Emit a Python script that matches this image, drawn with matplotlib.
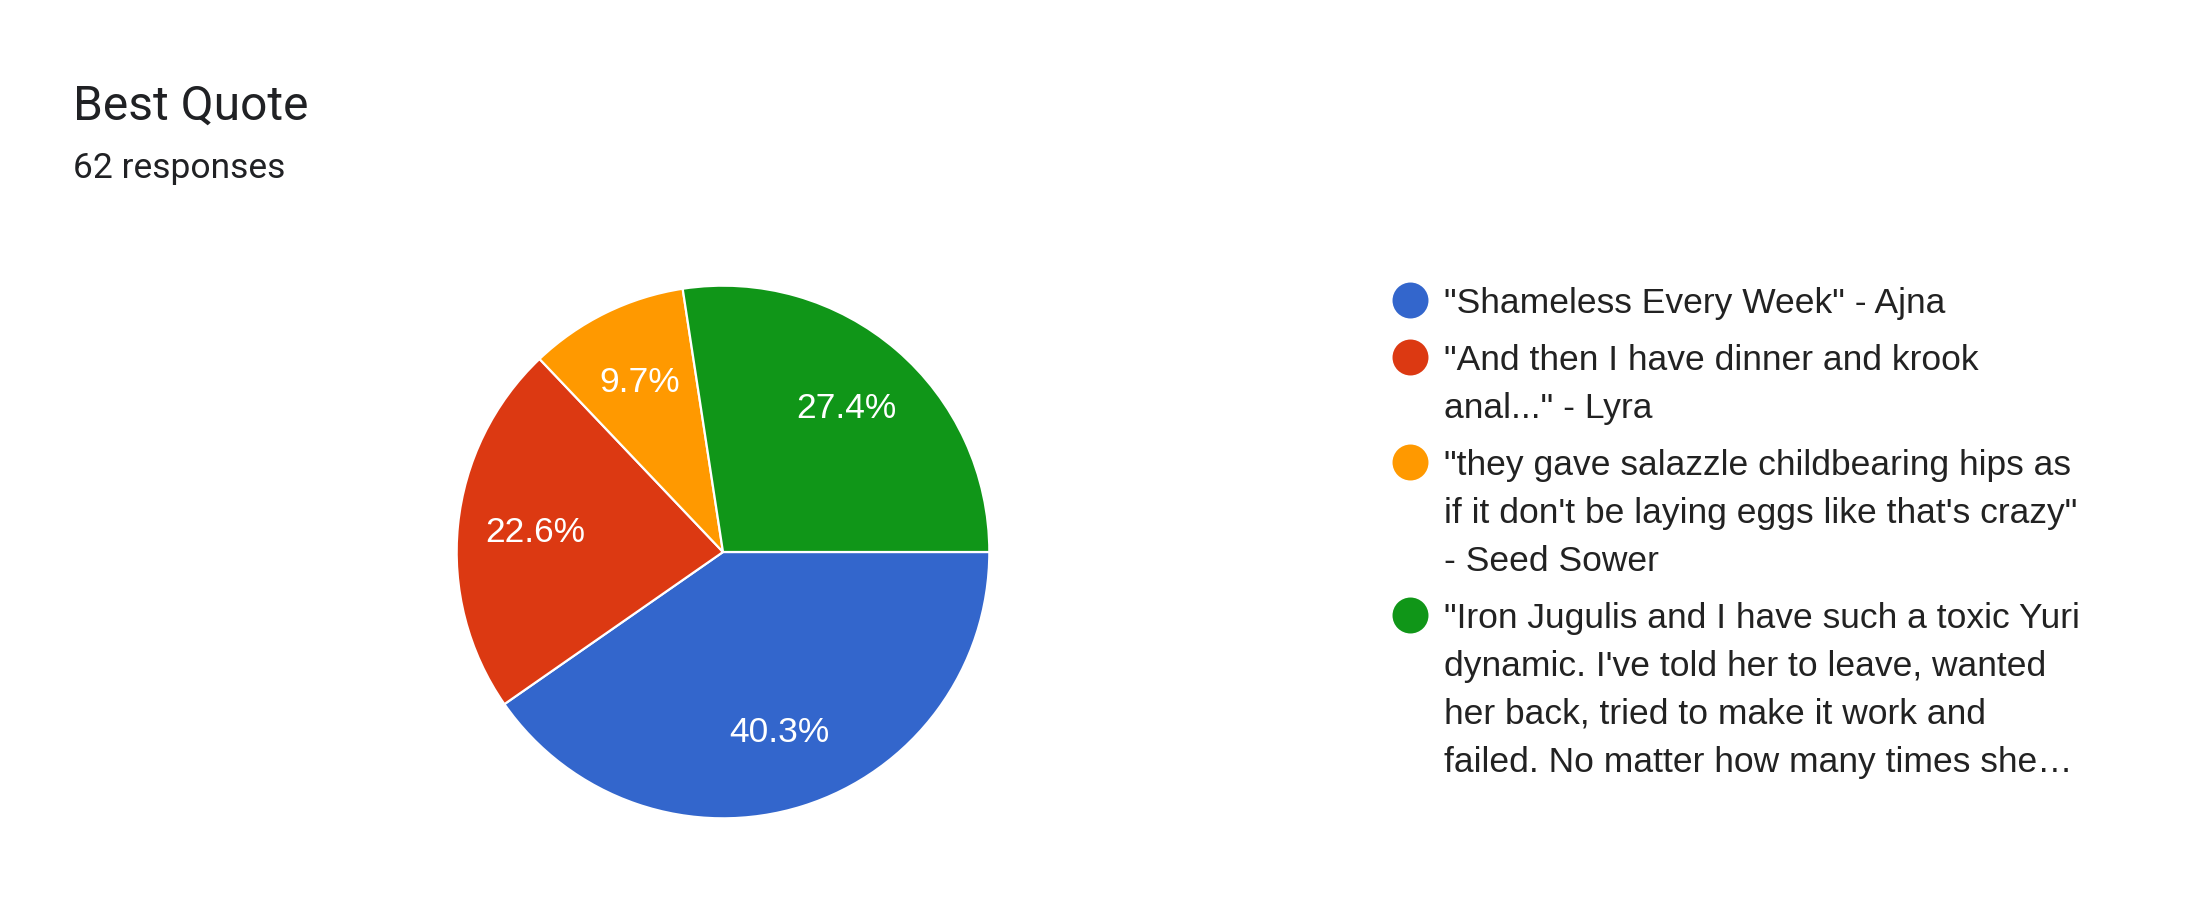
import matplotlib.pyplot as plt

plt.rcParams['font.family'] = ['Roboto', 'DejaVu Sans']
body_font = ['Liberation Sans', 'DejaVu Sans']

# data
title = 'Best Quote'
subtitle = '62 responses'
counts = [25, 14, 6, 17]
colors = ['#3366cc', '#dc3912', '#ff9900', '#109618']
labels = [
    '"Shameless Every Week" - Ajna',
    '"And then I have dinner and krook\nanal..." - Lyra',
    '"they gave salazzle childbearing hips as\nif it don\'t be laying eggs like that\'s crazy"\n- Seed Sower',
    '"Iron Jugulis and I have such a toxic Yuri\ndynamic. I\'ve told her to leave, wanted\nher back, tried to make it work and\nfailed. No matter how many times she\u2026',
]

W, H = 2199, 924
fig = plt.figure(figsize=(W / 100, H / 100), dpi=100)

# pie, centre (723, 552) px, radius 269 px
cx, cy, r = 723, 552, 269
ax = fig.add_axes([(cx - r) / W, (H - cy - r) / H, 2 * r / W, 2 * r / H])
wedges, texts, autotexts = ax.pie(
    counts, colors=colors, startangle=0, counterclock=False,
    autopct='%.1f%%', pctdistance=0.71,
    wedgeprops=dict(edgecolor='white', linewidth=1.6),
    textprops=dict(color='white', fontsize=25.5, family=body_font))
ax.set_xlim(-1.01, 1.01)
ax.set_ylim(-1.01, 1.01)
ax.set_aspect('equal')

# overlay in pixel coords for titles and legend
ov = fig.add_axes([0, 0, 1, 1])
ov.set_xlim(0, W)
ov.set_ylim(H, 0)
ov.axis('off')

ov.text(73, 120, title, fontsize=34.5, color='#202124', va='baseline')
ov.text(73, 178, subtitle, fontsize=25.5, color='#202124', va='baseline')

y = 313
for lab, col in zip(labels, colors):
    ov.scatter([1410], [y - 13], s=670, color=col, linewidths=0)
    for line in lab.split('\n'):
        ov.text(1444, y, line, fontsize=25.5, color='#222222', va='baseline',
                family=body_font)
        y += 48
    y += 57 - 48

fig.savefig('out.png', dpi=100, facecolor='white')
